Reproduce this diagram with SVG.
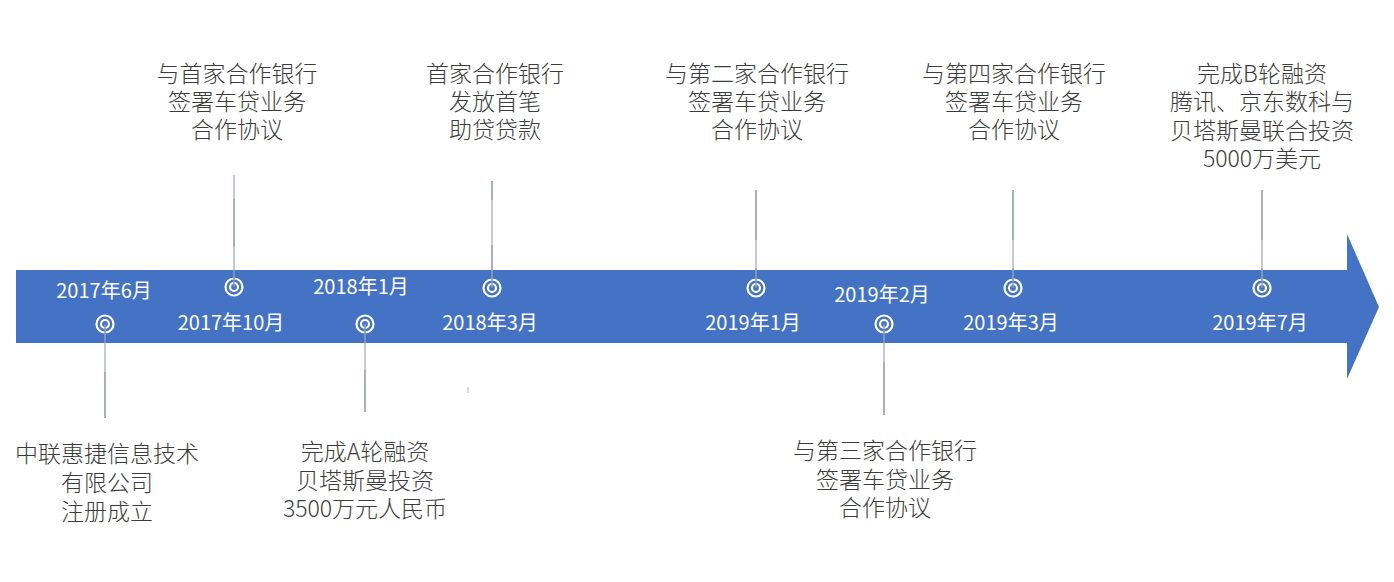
<svg xmlns="http://www.w3.org/2000/svg" width="1394" height="582" viewBox="0 0 1394 582">
  <style>
    .lbl { font-family: "Noto Sans CJK SC", "Noto Sans", sans-serif; font-size: 23px; font-weight: 300; fill: #3c3c3c; text-anchor: middle; }
    .date { font-family: "Noto Sans CJK SC", "Noto Sans", sans-serif; font-size: 20px; fill: #ffffff; text-anchor: middle; }
    .ring { fill: none; stroke: #ffffff; stroke-width: 2.2; }
    .conn { stroke: #8C9DB8; stroke-width: 1.6; fill: none; }
    .connhi { stroke: #C9D2DE; stroke-width: 1.6; fill: none; }
  </style>
  <defs>
    <g id="target">
      <circle class="ring" cx="0" cy="0" r="8.5"/>
      <circle class="ring" cx="0" cy="0" r="4"/>
    </g>
  </defs>
  <rect width="1394" height="582" fill="#ffffff"/>
  <g id="timeline-arrow">
    <polygon points="16,270 1347,270 1347,234 1379,307 1347,379 1347,343 16,343" fill="#4472C4"/>
  </g>
  <g id="markers">
    <use href="#target" x="105" y="324"/>
    <use href="#target" x="234" y="287"/>
    <use href="#target" x="365" y="324"/>
    <use href="#target" x="492" y="288"/>
    <use href="#target" x="756" y="288"/>
    <use href="#target" x="884" y="324"/>
    <use href="#target" x="1013" y="288"/>
    <use href="#target" x="1262" y="288"/>
  </g>
  <g id="connectors">
    <line class="conn" x1="105" y1="324" x2="105" y2="418"/>
    <line class="connhi" x1="105" y1="343" x2="105" y2="372"/>
    <line class="conn" x1="234" y1="175" x2="234" y2="287"/>
    <line class="connhi" x1="234" y1="175" x2="234" y2="199"/>
    <line class="connhi" x1="234" y1="247" x2="234" y2="270"/>
    <line class="conn" x1="365" y1="324" x2="365" y2="412"/>
    <line class="connhi" x1="365" y1="343" x2="365" y2="370"/>
    <line class="conn" x1="492" y1="181" x2="492" y2="288"/>
    <line class="connhi" x1="492" y1="200" x2="492" y2="245"/>
    <line class="connhi" x1="468" y1="387" x2="468" y2="393"/>
    <line class="conn" x1="756" y1="190" x2="756" y2="288"/>
    <line class="connhi" x1="756" y1="240" x2="756" y2="268"/>
    <line class="conn" x1="884" y1="324" x2="884" y2="415"/>
    <line class="connhi" x1="884" y1="343" x2="884" y2="362"/>
    <line class="conn" x1="1013" y1="190" x2="1013" y2="288"/>
    <line class="connhi" x1="1013" y1="240" x2="1013" y2="268"/>
    <line class="conn" x1="1262" y1="190" x2="1262" y2="288"/>
    <line class="connhi" x1="1262" y1="240" x2="1262" y2="268"/>
  </g>
  <g id="dates">
    <text class="date" x="104" y="298">2017年6月</text>
    <text class="date" x="231" y="330">2017年10月</text>
    <text class="date" x="361" y="294">2018年1月</text>
    <text class="date" x="490" y="330">2018年3月</text>
    <text class="date" x="753" y="330">2019年1月</text>
    <text class="date" x="882" y="302">2019年2月</text>
    <text class="date" x="1011" y="330">2019年3月</text>
    <text class="date" x="1260" y="330">2019年7月</text>
  </g>
  <g id="node-2017-06">
    <text class="lbl"><tspan x="107" y="462">中联惠捷信息技术</tspan><tspan x="107" y="491">有限公司</tspan><tspan x="107" y="520">注册成立</tspan></text>
  </g>
  <g id="node-2017-10">
    <text class="lbl"><tspan x="237" y="82">与首家合作银行</tspan><tspan x="237" y="110">签署车贷业务</tspan><tspan x="237" y="138">合作协议</tspan></text>
  </g>
  <g id="node-2018-01">
    <text class="lbl"><tspan x="365" y="460">完成A轮融资</tspan><tspan x="365" y="489">贝塔斯曼投资</tspan><tspan x="365" y="517">3500万元人民币</tspan></text>
  </g>
  <g id="node-2018-03">
    <text class="lbl"><tspan x="495" y="82">首家合作银行</tspan><tspan x="495" y="110">发放首笔</tspan><tspan x="495" y="138">助贷贷款</tspan></text>
  </g>
  <g id="node-2019-01">
    <text class="lbl"><tspan x="757" y="82">与第二家合作银行</tspan><tspan x="757" y="110">签署车贷业务</tspan><tspan x="757" y="138">合作协议</tspan></text>
  </g>
  <g id="node-2019-02">
    <text class="lbl"><tspan x="885" y="459">与第三家合作银行</tspan><tspan x="885" y="488">签署车贷业务</tspan><tspan x="885" y="516">合作协议</tspan></text>
  </g>
  <g id="node-2019-03">
    <text class="lbl"><tspan x="1014" y="82">与第四家合作银行</tspan><tspan x="1014" y="110">签署车贷业务</tspan><tspan x="1014" y="138">合作协议</tspan></text>
  </g>
  <g id="node-2019-07">
    <text class="lbl"><tspan x="1262" y="82">完成B轮融资</tspan><tspan x="1262" y="110">腾讯、京东数科与</tspan><tspan x="1262" y="139">贝塔斯曼联合投资</tspan><tspan x="1262" y="167">5000万美元</tspan></text>
  </g>
</svg>
